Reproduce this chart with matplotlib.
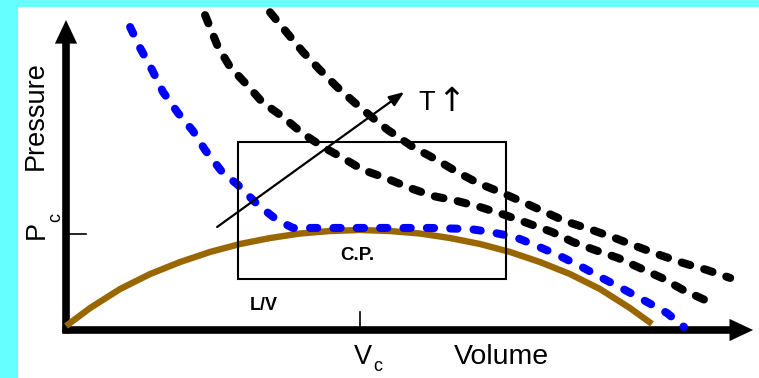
import matplotlib
matplotlib.use("Agg")
import matplotlib.pyplot as plt
from matplotlib.patches import Rectangle

plt.rcParams["font.family"] = ["Liberation Sans", "DejaVu Sans"]

# Coexistence dome (liquid/vapour), volume in units with Vc = 10, pressure with Pc = 10
dome_v = [0.00, 0.82, 1.84, 2.86, 3.88, 4.90, 5.92, 6.94, 7.96, 8.98, 10.00,
          11.02, 12.04, 13.06, 14.08, 15.10, 16.12, 17.14, 18.16, 19.18, 19.93]
dome_p = [0.42, 2.29, 4.27, 5.83, 7.08, 8.13, 8.96, 9.58, 10.05, 10.31, 10.42,
          10.31, 10.05, 9.58, 8.96, 8.13, 7.08, 5.83, 4.27, 2.29, 0.63]

# Critical isotherm (blue)
tc_v = [2.18, 2.52, 2.93, 3.30, 3.81, 4.32, 4.73, 5.31, 5.85, 6.53, 7.18, 7.72,
        10.00, 12.38, 13.74, 14.42, 15.27, 16.02, 16.73, 17.55, 18.23, 19.01,
        19.76, 20.44, 21.02]
tc_p = [31.56, 29.38, 27.08, 24.79, 22.60, 20.73, 18.75, 16.46, 15.10, 13.02,
        11.46, 10.63, 10.63, 10.63, 10.52, 10.21, 9.69, 8.75, 7.81, 6.56, 5.42,
        4.17, 2.92, 1.77, 0.31]

# Isotherm above Tc (lower black)
t1_v = [4.73, 5.17, 5.58, 6.16, 6.67, 7.38, 8.03, 8.74, 9.42, 10.10, 10.78,
        11.70, 12.48, 13.30, 14.08, 14.93, 15.68, 16.53, 17.24, 17.99, 18.78,
        19.52, 20.27, 20.99, 21.73]
t1_p = [32.80, 29.48, 27.40, 25.52, 23.75, 22.19, 20.52, 19.06, 17.92, 16.67,
        15.94, 14.79, 13.96, 13.44, 12.81, 11.98, 11.15, 10.21, 9.17, 8.33,
        7.50, 6.46, 5.42, 4.17, 3.13]

# Higher isotherm (upper black)
t2_v = [6.94, 7.52, 8.06, 8.64, 9.22, 9.83, 10.44, 10.95, 11.80, 12.62, 13.30,
        14.01, 14.76, 15.54, 16.29, 16.97, 17.89, 18.67, 19.46, 20.20, 20.99,
        21.80, 22.59]
t2_p = [33.10, 30.94, 28.96, 27.08, 25.31, 23.65, 22.08, 20.83, 19.06, 17.71,
        16.46, 15.31, 14.38, 13.33, 12.29, 11.35, 10.42, 9.58, 8.65, 7.81, 6.98,
        6.25, 5.42]

vc = 10.0
pc = 10.0

fig = plt.figure(figsize=(7.59, 3.78), dpi=100, facecolor="#66FFFF")
ax = fig.add_axes([0, 0, 1, 1])
ax.set_facecolor("none")
ax.set_xlim(-2.245, 23.57)
ax.set_ylim(-5.0, 34.375)
ax.axis("off")

# white panel inside the cyan frame
ax.add_patch(Rectangle((18 / 759, 0), 1 - 18 / 759, 371 / 378,
                       transform=fig.transFigure, facecolor="white",
                       edgecolor="none", zorder=-10))

# axes with arrows
axis_style = dict(arrowstyle="simple,head_length=17,head_width=16,tail_width=5.5",
                  mutation_scale=1, color="black", lw=0, shrinkA=0, shrinkB=0)
ax.annotate("", xy=(23.37, 0), xytext=(-0.12, 0), arrowprops=axis_style, zorder=1)
ax.annotate("", xy=(0, 32.29), xytext=(0, -0.35), arrowprops=axis_style, zorder=1)

# critical ticks
ax.plot([0, 0.68], [pc, pc], color="black", lw=1.2, zorder=1)
ax.plot([vc, vc], [0, 1.9], color="black", lw=1.2, zorder=1)

# curves
ax.plot(dome_v, dome_p, color="#996600", lw=4.6, solid_capstyle="butt",
        solid_joinstyle="round", zorder=2)
ax.plot(tc_v, tc_p, color="#0000FF", lw=5.8, dashes=(0.9, 2.0),
        dash_capstyle="round", dash_joinstyle="round", zorder=3)
ax.plot(t1_v, t1_p, color="black", lw=5.8, dashes=(1.1, 1.8),
        dash_capstyle="round", dash_joinstyle="round", zorder=3)
ax.plot(t2_v, t2_p, color="black", lw=5.8, dashes=(1.1, 1.8),
        dash_capstyle="round", dash_joinstyle="round", zorder=3)

# critical point box
ax.add_patch(Rectangle((5.85, 5.31), 14.97 - 5.85, 19.58 - 5.31, fill=False,
                       edgecolor="black", lw=1.5, zorder=4))

# temperature arrow
ax.annotate("", xy=(11.50, 24.79), xytext=(5.14, 10.73),
            arrowprops=dict(arrowstyle="-|>,head_length=9,head_width=3.5",
                            mutation_scale=1, color="black", lw=1.6,
                            shrinkA=0, shrinkB=0), zorder=5)
ax.text(11.97, 23.65, "T", fontsize=19.5, ha="left", va="center")
ax.text(13.10, 23.80, "\u2191", fontsize=24, family="DejaVu Sans",
        ha="center", va="center")

# labels
ax.text(-1.02, 22.3, "Pressure", fontsize=19.5, rotation=90, ha="center", va="center")
ax.text(-0.99, 10.42, "P", fontsize=19.5, rotation=90, ha="center", va="center")
ax.text(-0.34, 11.77, "c", fontsize=13, rotation=90, ha="center", va="center")
ax.text(10.1, -2.81, "V", fontsize=19.5, ha="center", va="center")
ax.text(10.61, -3.85, "c", fontsize=13, ha="center", va="center")
ax.text(14.82, -2.81, "Volume", fontsize=20.5, ha="center", va="center")
ax.text(9.90, 7.75, "C.P.", fontsize=13.5, fontweight="bold", ha="center", va="center")
ax.text(6.73, 2.5, "L/V", fontsize=13, fontweight="bold", ha="center", va="center")

fig.savefig("out.png", dpi=100, facecolor=fig.get_facecolor())
